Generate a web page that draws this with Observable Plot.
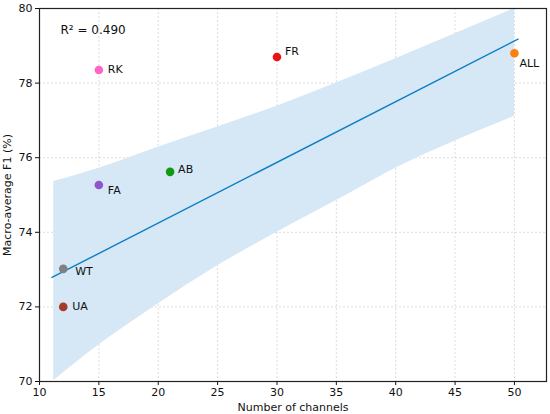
<!DOCTYPE html>
<html><head><meta charset="utf-8">
<script src="https://cdn.jsdelivr.net/npm/d3@7"></script>
<script src="https://cdn.jsdelivr.net/npm/@observablehq/plot@0.6"></script>
<style>
body{margin:0;background:#fff;}
#chart svg{font-family:"DejaVu Sans",sans-serif;background:#fff;}
</style>
</head><body><div id="chart"></div>
<script>
// Data
const names    = ["RK", "FR", "ALL", "AB", "FA", "WT", "UA"];
const channels = [15, 30, 50, 21, 15, 12, 12];
const f1       = [78.35, 78.7, 78.8, 75.62, 75.27, 73.02, 72.0];
const colors   = ["#ff66c4", "#ee1111", "#ff7f0e", "#119a11", "#9055c8", "#808080", "#a53a2a"];

// Regression fit line (endpoints) and confidence band edges
const fitX = [11.05, 50.3];
const fitY = [72.79, 79.18];
const bandX    = [11.2, 15, 20, 25, 30, 35, 40, 45, 50];
const bandLow  = [70.02, 70.98, 72.08, 73.1, 74.0, 74.85, 75.72, 76.45, 77.11];
const bandHigh = [75.36, 75.72, 76.28, 76.82, 77.38, 78.0, 78.65, 79.32, 80.0];

const xTicks = [10, 15, 20, 25, 30, 35, 40, 45, 50];
const yTicks = [70, 72, 74, 76, 78, 80];
const r2Text = "R\u00b2 = 0.490";

// label offsets (style)
const labelOffset = {
  RK: [9, -1], FR: [8, -6], ALL: [5, 10], AB: [8, -2],
  FA: [9, 6], WT: [12, 2.5], UA: [9, 0]
};

const points = names.map((n, i) => ({name: n, x: channels[i], y: f1[i], color: colors[i]}));
const fit = fitX.map((x, i) => ({x, y: fitY[i]}));
const band = bandX.map((x, i) => ({x, lo: bandLow[i], hi: bandHigh[i]}));

const chart = Plot.plot({
  width: 550,
  height: 414,
  marginLeft: 39,
  marginRight: 4,
  marginTop: 8,
  marginBottom: 33,
  style: {fontSize: "11px", fontFamily: "DejaVu Sans, sans-serif", color: "#111"},
  x: {domain: [10, 52.7]},
  y: {domain: [70, 80]},
  marks: [
    Plot.gridX(xTicks, {stroke: "#bbb", strokeOpacity: 0.5, strokeDasharray: "2,2"}),
    Plot.gridY(yTicks, {stroke: "#bbb", strokeOpacity: 0.5, strokeDasharray: "2,2"}),
    Plot.areaY(band, {x: "x", y1: "lo", y2: "hi", fill: "#d6e7f6", fillOpacity: 1, curve: "monotone-x", clip: true}),
    Plot.line(fit, {x: "x", y: "y", stroke: "#0a7fc4", strokeWidth: 1.4}),
    Plot.dot(points, {x: "x", y: "y", fill: "color", r: 4.3, stroke: null}),
    ...points.map(p => Plot.text([p], {
      x: "x", y: "y", text: "name", textAnchor: "start",
      dx: labelOffset[p.name][0], dy: labelOffset[p.name][1],
      fill: "#111", fontSize: 11
    })),
    Plot.text([r2Text], {frameAnchor: "top-left", dx: 21, dy: 17, fontSize: 12, fill: "#111", textAnchor: "start"}),
    Plot.axisX(xTicks, {tickSize: 4, label: "Number of channels", labelAnchor: "center", labelArrow: "none", labelOffset: 29, tickPadding: 3, fontSize: 11}),
    Plot.axisY(yTicks, {tickSize: 4, label: "Macro-average F1 (%)", labelAnchor: "center", labelArrow: "none", labelOffset: 36, tickPadding: 3, fontSize: 11}),
    Plot.frame({stroke: "#222", strokeWidth: 1.2})
  ]
});
document.getElementById("chart").appendChild(chart);
</script>
</body></html>
